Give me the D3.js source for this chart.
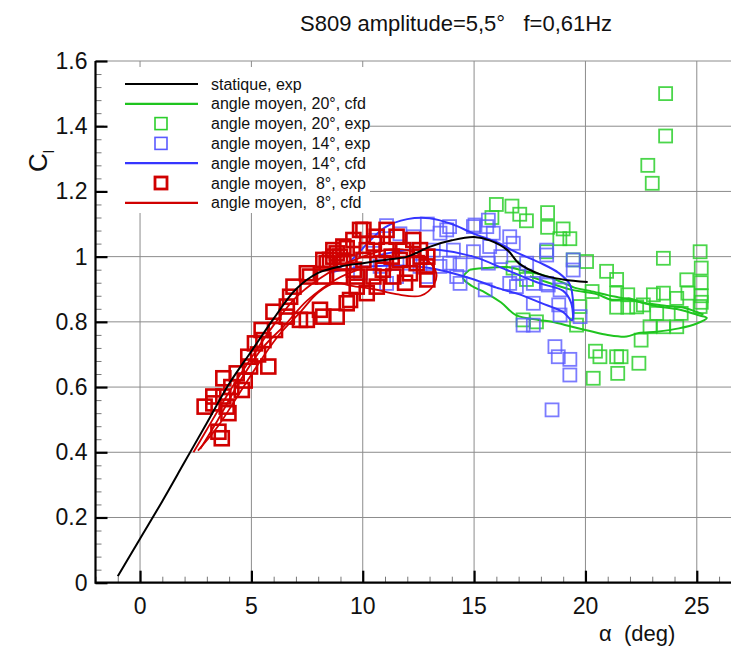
<!DOCTYPE html>
<html lang="fr">
<meta charset="utf-8">
<style>
  body { margin: 0; background: #fff; font-family: 'Liberation Sans', Arial, sans-serif; }
  .grid line { stroke: #8c8c8c; stroke-width: 1; }
  text { fill: #111; }
</style>
<body>
<div id="chart"></div>
<script src="https://d3js.org/d3.v7.min.js"></script>
<script>

// size of the picture
var width = 731,
    height = 646;

// static curve, experiment
var staticExp = [[-1,0.02],[0,0.135],[1,0.25],[2,0.37],[3,0.49],[4,0.61],[5,0.71],[6,0.81],[7,0.9],
  [8,0.95],[9,0.97],[10,0.98],[11,0.99],[12,1.0],[13,1.03],[14,1.05],[15,1.06],[15.7,1.05],
  [16.5,1.02],[17,0.98],[18,0.945],[19,0.93],[20.1,0.922]];

// mean angle 20 deg, cfd (two cycles)
var cfd20 = [
  [[14.8,0.96],[15.5,0.965],[16.5,0.968],[17.3,0.955],[18,0.945],[19,0.92],[19.5,0.905],[20.2,0.895],
   [21,0.882],[21.5,0.875],[22.2,0.865],[23.2,0.848],[24.2,0.838],[25.1,0.82],[25.45,0.812],
   [25,0.795],[24.2,0.78],[23.2,0.77],[22.4,0.766],[21.85,0.755],[21,0.76],[20.2,0.772],[19.4,0.785],
   [18.5,0.8],[17.9,0.806],[16.9,0.82],[16.2,0.86],[15.5,0.89],[14.9,0.91],[14.5,0.935],[14.8,0.96]],
  [[17.5,0.94],[18,0.928],[19.4,0.898],[20.5,0.885],[21.2,0.867],[22,0.872],[22.5,0.86],[23.5,0.85],
   [24.5,0.842],[25.3,0.822]]
];

// mean angle 20 deg, experiment
var exp20 = [[16.0,1.16],[16.7,1.155],[15.8,1.12],[17.05,1.13],[17.35,1.11],[18.3,1.135],[18.3,1.09],
  [19.0,1.085],[19.3,1.055],[18.85,1.055],[18.25,1.015],[16.75,0.965],[17.35,0.93],
  [19.45,0.99],[20.05,0.985],[20.95,0.955],[21.4,0.93],[21.4,0.888],[21.9,0.883],[21.4,0.845],
  [21.9,0.845],[22.3,0.846],[22.6,0.852],[23.05,0.883],[23.5,0.888],[23.5,0.995],[24.1,0.872],
  [24.55,0.929],[24.6,0.888],[25.15,1.015],[25.2,0.965],[25.2,0.92],[25.2,0.88],[25.2,0.86],
  [25.15,0.847],[24.3,0.826],[23.2,0.826],[22.9,0.785],[23.5,0.785],[24.1,0.785],[22.5,0.744],
  [19.75,0.847],[20.3,0.893],[19.6,0.79],[17.2,0.806],[17.8,0.8],
  [23.6,1.5],[23.6,1.37],[22.8,1.28],[23.0,1.225],
  [20.45,0.71],[20.65,0.693],[21.4,0.693],[21.6,0.693],[22.4,0.673],[20.35,0.627],[21.45,0.642]];

// mean angle 14 deg, experiment
var exp14 = [[13.77,1.082],[14.07,1.02],[13.9,0.98],[14.37,0.918],[15.04,1.097],[15.57,1.092],
  [15.86,1.072],[16.6,1.061],[16.76,1.041],[15.7,1.031],[14.97,1.015],[15.64,0.98],[15.5,0.898],
  [16.9,0.908],[17.66,0.918],[17.36,0.98],[18.26,1.005],[18.26,0.918],[17.66,0.857],[18.8,0.852],
  [19.45,0.99],[19.45,0.959],[18.86,0.898],[18.86,0.821],[19.76,0.816],[17.2,0.79],[17.66,0.79],
  [13.9,1.092],[14.97,1.092],[15.64,1.112],[14.37,0.975],[16.6,0.918],[18.33,0.913],[18.26,1.02],
  [11.07,1.095],[11.67,1.07],[12.27,1.061],[13.47,1.072],[13.17,1.02],[13.47,0.97],[14.22,0.939],
  [12.57,0.97],[11.52,0.939],[11.07,0.918],[10.78,0.97],[12.12,0.98],[12.87,0.939],[10.48,1.05],
  [16.2,1.0],[17.0,0.95],[12.9,1.1],[9.9,0.95],
  [18.63,0.724],[18.78,0.693],[19.3,0.685],[19.3,0.637],[18.5,0.53]];

// mean angle 14 deg, cfd
var cfd14 = [
  [[8.5,0.95],[9.5,0.99],[10.2,1.04],[11,1.09],[12,1.115],[13,1.118],[14,1.1],[15,1.07],[16,1.045],
   [17,1.01],[18,0.98],[18.8,0.95],[19.3,0.915],[19.45,0.85],[19.4,0.805],[19.0,0.83],[18,0.858],
   [17,0.885],[16,0.905],[15,0.93],[14,0.95],[13,0.965],[12,0.972],[11,0.972],[10,0.968],[9,0.958],[8.5,0.95]],
  [[10.5,1.0],[12,1.02],[13.47,1.02],[14.97,1.0],[16.47,0.959],[17.96,0.918],[19.0,0.895],[19.35,0.86],[19.45,0.81]]
];

// mean angle 8 deg, experiment
var exp8 = [[3.67,0.443],[3.52,0.463],[3.29,0.571],[3.29,0.55],[3.74,0.571],[3.89,0.54],[3.97,0.52],
  [3.74,0.627],[4.34,0.642],[4.57,0.591],[4.86,0.693],[4.94,0.663],[5.76,0.663],[5.16,0.734],
  [5.54,0.744],[5.46,0.775],[6.06,0.775],[5.99,0.831],[6.59,0.816],[6.59,0.847],[6.74,0.877],
  [6.89,0.908],[7.18,0.806],[7.49,0.806],[7.63,0.939],[8.23,0.939],[8.08,0.837],[8.23,0.816],
  [8.83,0.816],[8.68,1.0],[10.03,1.082],[11.07,1.082],[9.58,1.051],[10.63,1.061],[11.52,1.061],
  [12.27,1.051],[8.68,1.02],[9.28,1.026],[10.18,1.02],[11.07,1.02],[11.82,1.02],[12.57,1.02],
  [8.38,0.98],[9.13,0.98],[10.03,0.99],[10.92,0.98],[11.67,0.99],[12.42,0.98],[12.87,0.97],
  [8.98,0.939],[9.73,0.939],[10.48,0.939],[11.37,0.939],[12.12,0.949],[9.73,0.908],[10.63,0.908],
  [9.43,0.867],[9.88,1.082],[9.13,1.031],[8.98,1.0],[8.53,0.99],[7.49,0.949],[9.28,0.857],
  [8.23,0.99],[8.83,1.01],[10.18,0.888],[12.6,1.0],[12.9,1.0],[10.5,1.04],[11.3,1.0],[9.6,0.96],
  [12.9,0.93],[11.9,0.92],[10.9,0.96],[4.1,0.6],[4.7,0.62],[5.3,0.7],[2.9,0.54]];

// mean angle 8 deg, cfd (two cycles)
var cfd8 = [
  [[2.4,0.4],[3,0.47],[4,0.585],[5,0.69],[6,0.79],[7,0.875],[8,0.93],[9,0.97],[10,1.0],[11,1.02],
   [12,1.02],[12.8,0.995],[13.3,0.95],[13.2,0.915],[12.6,0.88],[11.5,0.885],[10.5,0.9],[9.5,0.91],
   [8.8,0.92],[8,0.89],[7.2,0.83],[6.3,0.765],[5.5,0.69],[4.5,0.585],[3.5,0.48],[2.6,0.405]],
  [[2.7,0.41],[3.5,0.5],[4.5,0.62],[5.5,0.72],[6.5,0.79],[7.5,0.865],[8.8,0.93],[9.8,0.96]]
];

var xTicks = [0, 5, 10, 15, 20, 25];
var yTicks = [0, 0.2, 0.4, 0.6, 0.8, 1, 1.2, 1.4, 1.6];

var legendItems = [
  {label: "statique, exp", color: "#000", kind: "line"},
  {label: "angle moyen, 20°, cfd", color: "#1fc41f", kind: "line"},
  {label: "angle moyen, 20°, exp", color: "#2ccf2c", kind: "square"},
  {label: "angle moyen, 14°, exp", color: "#5a5aff", kind: "square"},
  {label: "angle moyen, 14°, cfd", color: "#3535ff", kind: "line"},
  {label: "angle moyen,  8°, exp", color: "#d00000", kind: "bigsquare"},
  {label: "angle moyen,  8°, cfd", color: "#d00000", kind: "line"}
];

var svg = d3.select("#chart").append("svg")
    .attr("width", width)
    .attr("height", height);

var x = d3.scaleLinear().domain([-2, 26.5]).range([95.5, 730.2]);
var y = d3.scaleLinear().domain([0, 1.6]).range([582.7, 61]);

// grid
var grid = svg.append("g").attr("class", "grid");
grid.selectAll(".gx").data(xTicks).enter().append("line")
    .attr("x1", function(d) { return x(d); }).attr("x2", function(d) { return x(d); })
    .attr("y1", y(0)).attr("y2", y(1.6));
grid.selectAll(".gy").data(yTicks.slice(1)).enter().append("line")
    .attr("x1", x(-2)).attr("x2", width)
    .attr("y1", function(d) { return y(d); }).attr("y2", function(d) { return y(d); });

// axes with inward ticks
var xMinor = d3.range(-2, 27, 1).filter(function(d) { return d % 5 !== 0; });
var yMinor = d3.range(0, 1.601, 0.04).filter(function(d) { return Math.abs(d / 0.2 - Math.round(d / 0.2)) > 0.01; });

var xAxisMinor = d3.axisTop(x).tickValues(xMinor).tickSize(6).tickFormat("");
var xAxis = d3.axisTop(x).tickValues(xTicks).tickSize(12).tickFormat("");
var yAxisMinor = d3.axisRight(y).tickValues(yMinor).tickSize(6).tickFormat("");
var yAxis = d3.axisRight(y).tickValues(yTicks).tickSize(12).tickFormat("");

svg.append("g").attr("transform", "translate(0," + y(0) + ")").call(xAxisMinor)
   .call(function(g) { g.select(".domain").remove(); g.selectAll("line").attr("stroke", "#777").attr("stroke-width", 1); });
svg.append("g").attr("transform", "translate(" + x(-2) + ",0)").call(yAxisMinor)
   .call(function(g) { g.select(".domain").remove(); g.selectAll("line").attr("stroke", "#777").attr("stroke-width", 1); });

// legend box sits on top of the grid
var legend = svg.append("g");
legend.append("rect").attr("x", 104).attr("y", 67).attr("width", 266).attr("height", 146).attr("fill", "#fff");

// data
var line = d3.line().x(function(d) { return x(d[0]); }).y(function(d) { return y(d[1]); })
    .curve(d3.curveCatmullRom);

function squares(data, color, size, sw, op) {
  svg.append("g").selectAll("rect").data(data).enter().append("rect")
      .attr("x", function(d) { return x(d[0]) - size / 2; })
      .attr("y", function(d) { return y(d[1]) - size / 2; })
      .attr("width", size).attr("height", size)
      .attr("fill", "none").attr("stroke", color).attr("stroke-width", sw).attr("stroke-opacity", op);
}
function curves(data, color, sw) {
  svg.append("g").selectAll("path").data(data).enter().append("path")
      .attr("d", line).attr("fill", "none").attr("stroke", color).attr("stroke-width", sw);
}

squares(exp20, "#2ccf2c", 13, 1.8, 0.85);
curves(cfd20, "#1fc41f", 2);
squares(exp14, "#5a5aff", 13, 1.8, 0.8);
curves(cfd14, "#3535ff", 2);
squares(exp8, "#d00000", 14, 2.6, 1);
curves(cfd8, "#d00000", 1.8);
curves([staticExp], "#000", 2);

// main axes drawn last
svg.append("g").attr("transform", "translate(0," + y(0) + ")").call(xAxis)
   .call(function(g) { g.select(".domain").remove(); g.selectAll("line").attr("stroke", "#000").attr("stroke-width", 2.2); });
svg.append("g").attr("transform", "translate(" + x(-2) + ",0)").call(yAxis)
   .call(function(g) { g.select(".domain").remove(); g.selectAll("line").attr("stroke", "#000").attr("stroke-width", 2.2); });
svg.append("line").attr("x1", x(-2)).attr("x2", width).attr("y1", y(0)).attr("y2", y(0))
   .attr("stroke", "#000").attr("stroke-width", 2.2);
svg.append("line").attr("x1", x(-2)).attr("x2", x(-2)).attr("y1", y(0) + 1).attr("y2", y(1.6))
   .attr("stroke", "#000").attr("stroke-width", 2.2);

// tick labels
svg.append("g").selectAll("text").data(xTicks).enter().append("text")
    .attr("x", function(d) { return x(d); }).attr("y", y(0) + 31)
    .attr("text-anchor", "middle").style("font-size", "23px")
    .text(function(d) { return d; });
svg.append("g").selectAll("text").data(yTicks).enter().append("text")
    .attr("x", x(-2) - 8).attr("y", function(d) { return y(d) + 8; })
    .attr("text-anchor", "end").style("font-size", "23px")
    .text(function(d) { return d; });

// titles
svg.append("text").attr("x", 300).attr("y", 31).style("font-size", "22px")
    .style("white-space", "pre")
    .text("S809 amplitude=5,5°   f=0,61Hz");
svg.append("text").attr("x", 599).attr("y", 641).style("font-size", "22px")
    .style("white-space", "pre").text("α  (deg)");
var cl = svg.append("text").attr("transform", "translate(47,172) rotate(-90)").style("font-size", "26px");
cl.append("tspan").text("C");
cl.append("tspan").attr("dy", 7).style("font-size", "15px").text("l");

// legend entries
legendItems.forEach(function(d, i) {
  var ly = 84 + i * 19.8;
  if (d.kind === "line") {
    legend.append("line").attr("x1", 125).attr("x2", 198).attr("y1", ly).attr("y2", ly)
        .attr("stroke", d.color).attr("stroke-width", 2.2);
  } else {
    var s = 12;
    legend.append("rect").attr("x", 161 - s / 2).attr("y", ly - s / 2).attr("width", s).attr("height", s)
        .attr("fill", "none").attr("stroke", d.color).attr("stroke-width", d.kind === "bigsquare" ? 2.8 : 1.6);
  }
  legend.append("text").attr("x", 211).attr("y", ly + 5.5).style("font-size", "16px")
      .style("white-space", "pre").text(d.label);
});

</script>
</body>
</html>
